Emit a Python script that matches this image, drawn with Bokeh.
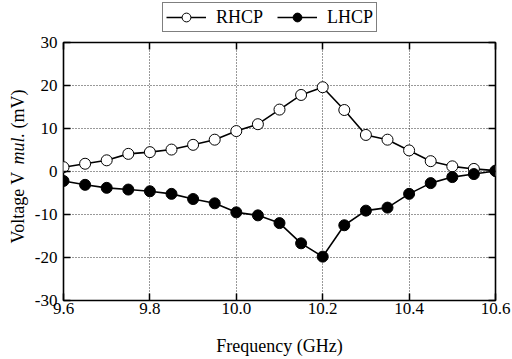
import numpy as np
from bokeh.plotting import figure
from bokeh.layouts import column, row
from bokeh.models import (ColumnDataSource, Legend, LegendItem, LinearAxis, Label,
                          FixedTicker, Range1d, CustomJSTickFormatter)
from bokeh.embed import file_html
from bokeh.resources import INLINE

freq = [9.60, 9.65, 9.70, 9.75, 9.80, 9.85, 9.90, 9.95, 10.00, 10.05, 10.10,
        10.15, 10.20, 10.25, 10.30, 10.35, 10.40, 10.45, 10.50, 10.55, 10.60]
rhcp = [1.0, 1.8, 2.6, 4.1, 4.5, 5.1, 6.2, 7.4, 9.4, 11.0, 14.4,
        17.8, 19.6, 14.3, 8.5, 7.4, 4.9, 2.4, 1.2, 0.6, 0.2]
lhcp = [-2.2, -3.1, -3.8, -4.2, -4.6, -5.2, -6.4, -7.4, -9.5, -10.2, -12.0,
        -16.7, -19.8, -12.5, -9.1, -8.4, -5.2, -2.7, -1.3, -0.6, 0.1]
x_ticks = [9.6, 9.8, 10.0, 10.2, 10.4, 10.6]
y_ticks = [-30, -20, -10, 0, 10, 20, 30]
series_names = ["RHCP", "LHCP"]

FONT = "'Liberation Serif', 'Times New Roman', serif"
TOP_H = 32
LEFT_W = 30
MAIN_H = 359 - TOP_H

# ---------------- main plot ----------------
p = figure(width=512 - LEFT_W, height=MAIN_H, output_backend="svg",
           toolbar_location=None,
           x_range=Range1d(9.6, 10.6), y_range=Range1d(-30, 30),
           min_border_left=63 - LEFT_W, min_border_right=17,
           min_border_top=42 - TOP_H, min_border_bottom=59)
p.outline_line_color = "black"
p.outline_line_width = 1.6
p.background_fill_color = "white"
p.border_fill_color = "white"

xa = p.xaxis[0]
ya = p.yaxis[0]
for ax, ticks, fmt in ((xa, x_ticks, "return tick.toFixed(1);"),
                       (ya, y_ticks, "return String(Math.round(tick));")):
    ax.ticker = FixedTicker(ticks=ticks)
    ax.formatter = CustomJSTickFormatter(code=fmt)
    ax.axis_line_color = None
    ax.major_tick_in = 7
    ax.major_tick_out = 0
    ax.major_tick_line_width = 1.5
    ax.minor_tick_line_color = None
    ax.major_label_text_font = FONT
    ax.major_label_text_font_style = "normal"
    ax.major_label_text_font_size = "17px"
    ax.major_label_text_color = "black"
    ax.axis_label_text_font = FONT
    ax.axis_label_text_font_style = "normal"
    ax.axis_label_text_font_size = "18px"
    ax.axis_label_text_color = "black"
xa.major_label_standoff = 2
xa.axis_label = "Frequency (GHz)"
xa.axis_label_standoff = 19
ya.major_label_standoff = 6

for loc, ticks in (("above", x_ticks), ("right", y_ticks)):
    ax = LinearAxis(ticker=FixedTicker(ticks=ticks),
                    formatter=CustomJSTickFormatter(code="return '';"))
    ax.axis_line_color = None
    ax.major_tick_in = 7
    ax.major_tick_out = 0
    ax.major_tick_line_width = 1.5
    ax.minor_tick_line_color = None
    ax.major_label_standoff = 0
    ax.major_label_text_font_size = "1px"
    p.add_layout(ax, loc)

p.xgrid.ticker = FixedTicker(ticks=x_ticks[1:-1])
p.ygrid.ticker = FixedTicker(ticks=y_ticks[1:-1])
for g in (p.xgrid[0], p.ygrid[0]):
    g.grid_line_color = "#333333"
    g.grid_line_dash = "1 2"
    g.grid_line_width = 1

src = ColumnDataSource(dict(f=freq, r=rhcp, l=lhcp))
p.line("f", "r", source=src, line_color="black", line_width=1.6)
p.scatter("f", "r", source=src, size=11, marker="circle",
          fill_color="white", line_color="black", line_width=1)
p.line("f", "l", source=src, line_color="black", line_width=1.6)
p.scatter("f", "l", source=src, size=11, marker="circle",
          fill_color="black", line_color="black", line_width=1)

# ---------------- legend strip ----------------
lf = figure(width=512, height=TOP_H, output_backend="svg", toolbar_location=None,
            x_axis_location=None, y_axis_location=None, min_border=0,
            x_range=Range1d(0, 1), y_range=Range1d(100, 101))
lf.outline_line_color = None
lf.xgrid.visible = False
lf.ygrid.visible = False
r1 = lf.line("f", "r", source=src, line_color="black", line_width=1.6)
r2 = lf.scatter("f", "r", source=src, marker="circle", size=11,
                fill_color="white", line_color="black", line_width=1)
r3 = lf.line("f", "l", source=src, line_color="black", line_width=1.6)
r4 = lf.scatter("f", "l", source=src, marker="circle", size=11,
                fill_color="black", line_color="black", line_width=1)
legend = Legend(items=[LegendItem(label=series_names[0], renderers=[r1, r2]),
                       LegendItem(label=series_names[1], renderers=[r3, r4])],
                orientation="horizontal", location=(162, 0),
                label_text_font=FONT, label_text_font_size="18px",
                label_text_color="black",
                glyph_width=40, glyph_height=22, label_standoff=10,
                spacing=14, padding=3, margin=0,
                border_line_color="black", border_line_width=1.2,
                background_fill_alpha=1)
lf.add_layout(legend)

# ---------------- y label strip (frame aligned with main frame) ----------------
yf = figure(width=LEFT_W, height=MAIN_H, output_backend="svg", toolbar_location=None,
            x_axis_location=None, y_axis_location=None, min_border=0)
yf.outline_line_color = None
yf.xgrid.visible = False
yf.ygrid.visible = False
common = dict(x=17, x_units="screen", y_units="screen", angle=np.pi / 2,
              text_font=FONT, text_font_size="18px",
              text_color="black", text_baseline="middle", text_align="left")
yf.add_layout(Label(text="Voltage V", y=57, **common))
yf.add_layout(Label(text="mul.", y=136, text_font_style="italic", **common))
yf.add_layout(Label(text="(mV)", y=172, **common))

layout = column(lf, row(yf, p, spacing=0), spacing=0)
open("out.html", "w").write(file_html(layout, INLINE))
